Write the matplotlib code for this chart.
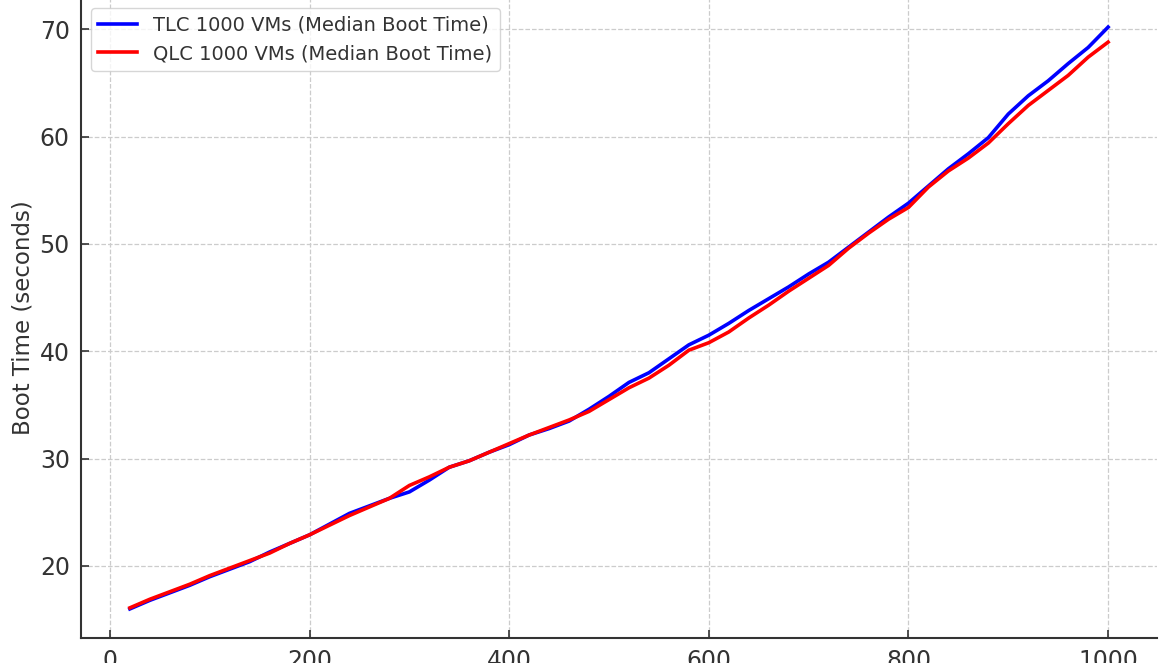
import matplotlib
matplotlib.use("Agg")
import matplotlib.pyplot as plt
import numpy as np

# number of VMs booted (x axis)
vm_count = [20, 40, 60, 80, 100, 120, 140, 160, 180, 200,
            220, 240, 260, 280, 300, 320, 340, 360, 380, 400,
            420, 440, 460, 480, 500, 520, 540, 560, 580, 600,
            620, 640, 660, 680, 700, 720, 740, 760, 780, 800,
            820, 840, 860, 880, 900, 920, 940, 960, 980, 1000]

# median boot time (seconds)
tlc_boot = [16.0, 16.8, 17.5, 18.2, 19.0, 19.7, 20.4, 21.3, 22.1, 22.9,
            23.9, 24.9, 25.6, 26.3, 26.9, 28.0, 29.2, 29.8, 30.6, 31.3,
            32.2, 32.8, 33.5, 34.6, 35.8, 37.1, 38.0, 39.3, 40.6, 41.5,
            42.6, 43.8, 44.9, 46.0, 47.2, 48.3, 49.7, 51.1, 52.5, 53.8,
            55.4, 57.0, 58.4, 59.9, 62.1, 63.8, 65.2, 66.8, 68.3, 70.2]
qlc_boot = [16.1, 16.9, 17.6, 18.3, 19.1, 19.8, 20.5, 21.2, 22.1, 22.9,
            23.8, 24.7, 25.5, 26.3, 27.5, 28.3, 29.2, 29.8, 30.6, 31.4,
            32.2, 32.9, 33.6, 34.4, 35.5, 36.6, 37.5, 38.7, 40.1, 40.8,
            41.8, 43.1, 44.3, 45.6, 46.8, 48.0, 49.6, 51.0, 52.3, 53.4,
            55.3, 56.8, 58.0, 59.4, 61.2, 62.9, 64.3, 65.7, 67.4, 68.8]

labels = ["TLC 1000 VMs (Median Boot Time)", "QLC 1000 VMs (Median Boot Time)"]

text_color = "#333333"
plt.rcParams["font.family"] = ["DejaVu Sans"]

fig = plt.figure(figsize=(11.7, 6.63), dpi=100)
# the reference is a crop: axes run off the top edge of the picture
ax = fig.add_axes([0.0692, 0.0377, 0.9197, 0.9653])

ax.plot(vm_count, tlc_boot, color="blue", lw=2.6, label=labels[0])
ax.plot(vm_count, qlc_boot, color="red", lw=2.6, label=labels[1])

ax.set_ylabel("Boot Time (seconds)", fontsize=16.5, color=text_color)
ax.set_xticks([0, 200, 400, 600, 800, 1000])
ax.set_yticks([20, 30, 40, 50, 60, 70])
ax.tick_params(direction="in", length=6, width=1.2, labelsize=17,
               colors=text_color, pad=8)
ax.grid(True, ls="--", color="#cccccc", lw=0.9)

for side in ["top", "right"]:
    ax.spines[side].set_visible(False)
for side in ["left", "bottom"]:
    ax.spines[side].set_color(text_color)
    ax.spines[side].set_linewidth(1.5)

leg = ax.legend(loc="upper left", fontsize=14, frameon=True, fancybox=True)
leg.get_frame().set_edgecolor("#cccccc")
for t in leg.get_texts():
    t.set_color(text_color)

fig.savefig("out.png", dpi=100)
